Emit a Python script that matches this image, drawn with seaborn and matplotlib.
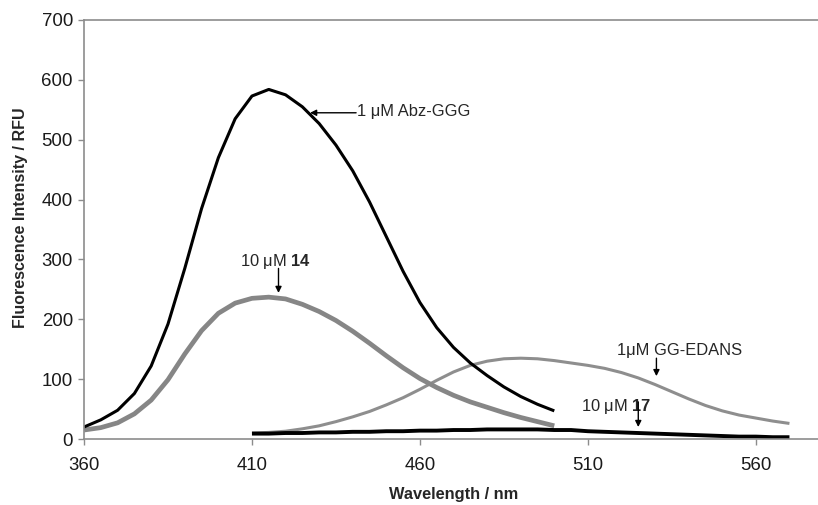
import numpy as np
import pandas as pd
import seaborn as sns
import matplotlib.pyplot as plt

# wavelengths (nm)
wl_short = list(range(360, 505, 5))   # 360..500
wl_long = list(range(410, 575, 5))    # 410..570

# 1 uM Abz-GGG
abz_ggg = [20, 32, 48, 76, 122, 192, 285, 385, 470, 535, 573, 584, 575,
           555, 527, 491, 448, 396, 338, 280, 228, 186, 153, 127, 106, 87, 71, 58, 47]
# 10 uM 14
cmpd_14 = [15, 19, 27, 42, 65, 99, 142, 181, 210, 227, 235, 237, 234,
           225, 213, 198, 180, 160, 139, 119, 101, 86, 73, 62, 53, 44, 36, 29, 22]
# 1 uM GG-EDANS
gg_edans = [10, 11, 13, 17, 22, 29, 37, 46, 57, 69, 83, 98, 112, 123, 130, 134, 135,
            134, 131, 127, 123, 118, 111, 102, 91, 79, 67, 56, 47, 40, 35, 30, 26]
# 10 uM 17
cmpd_17 = [9, 9, 10, 10, 11, 11, 12, 12, 13, 13, 14, 14, 15, 15, 16, 16, 16,
           16, 15, 15, 13, 12, 11, 10, 9, 8, 7, 6, 5, 4, 4, 3, 3]

sns.set_theme(style="white")
plt.rcParams['font.family'] = ['Liberation Sans', 'DejaVu Sans']
plt.rcParams['mathtext.fontset'] = 'custom'
plt.rcParams['mathtext.rm'] = 'Liberation Sans'
plt.rcParams['mathtext.bf'] = 'Liberation Sans:bold'

fig = plt.figure(figsize=(8.18, 5.05), dpi=100)
ax = fig.add_axes([84 / 818, 66 / 505, 734 / 818, 419 / 505])

line_kw = dict(solid_joinstyle='round', solid_capstyle='butt')
sns.lineplot(x=wl_long, y=gg_edans, color='#8e8e8e', lw=2.2, ax=ax, **line_kw)
sns.lineplot(x=wl_short, y=cmpd_14, color='#868686', lw=3.4, ax=ax, **line_kw)
sns.lineplot(x=wl_short, y=abz_ggg, color='black', lw=2.2, ax=ax, **line_kw)
sns.lineplot(x=wl_long, y=cmpd_17, color='black', lw=2.8, ax=ax, **line_kw)

ax.set_xlim(360, 578.5)
ax.set_ylim(0, 700)
ax.set_xticks([360, 410, 460, 510, 560])
ax.set_yticks(range(0, 800, 100))

for s in ['left', 'bottom', 'top']:
    ax.spines[s].set_color('#8c8c8c')
    ax.spines[s].set_linewidth(1.2)
ax.spines['right'].set_visible(False)

ax.tick_params(axis='both', which='major', direction='out', color='#8c8c8c',
               length=4, width=1, labelsize=13.4, labelcolor='#1a1a1a')
ax.tick_params(axis='x', pad=9)
ax.tick_params(axis='y', pad=4)
ax.tick_params(left=True, bottom=True)

ax.set_xlabel('Wavelength / nm', fontsize=11.8, fontweight='bold')
ax.set_ylabel('Fluorescence Intensity / RFU', fontsize=11.5, fontweight='bold')
ax.xaxis.set_label_coords(0.503, -0.114)
ax.yaxis.set_label_coords(-0.076, 0.527)

arrow = dict(arrowstyle='-|>', color='black', lw=1, mutation_scale=9, shrinkA=0, shrinkB=0)
fs = 11.9

ax.text(441.3, 547, '1 μM Abz-GGG', fontsize=fs, ha='left', va='center')
ax.annotate('', xy=(427.3, 545), xytext=(441.0, 545), arrowprops=arrow)

ax.text(417.1, 296, r'10 μM $\mathbf{14}$', fontsize=fs, ha='center', va='center')
ax.annotate('', xy=(417.9, 244), xytext=(417.9, 285), arrowprops=arrow)

ax.text(537.4, 148, '1μM GG-EDANS', fontsize=fs, ha='center', va='center')
ax.annotate('', xy=(530.4, 105), xytext=(530.4, 135), arrowprops=arrow)

ax.text(518.3, 55, r'10 μM $\mathbf{17}$', fontsize=fs, ha='center', va='center')
ax.annotate('', xy=(525.0, 20), xytext=(525.0, 62), arrowprops=arrow)

fig.savefig('out.png', dpi=100)
